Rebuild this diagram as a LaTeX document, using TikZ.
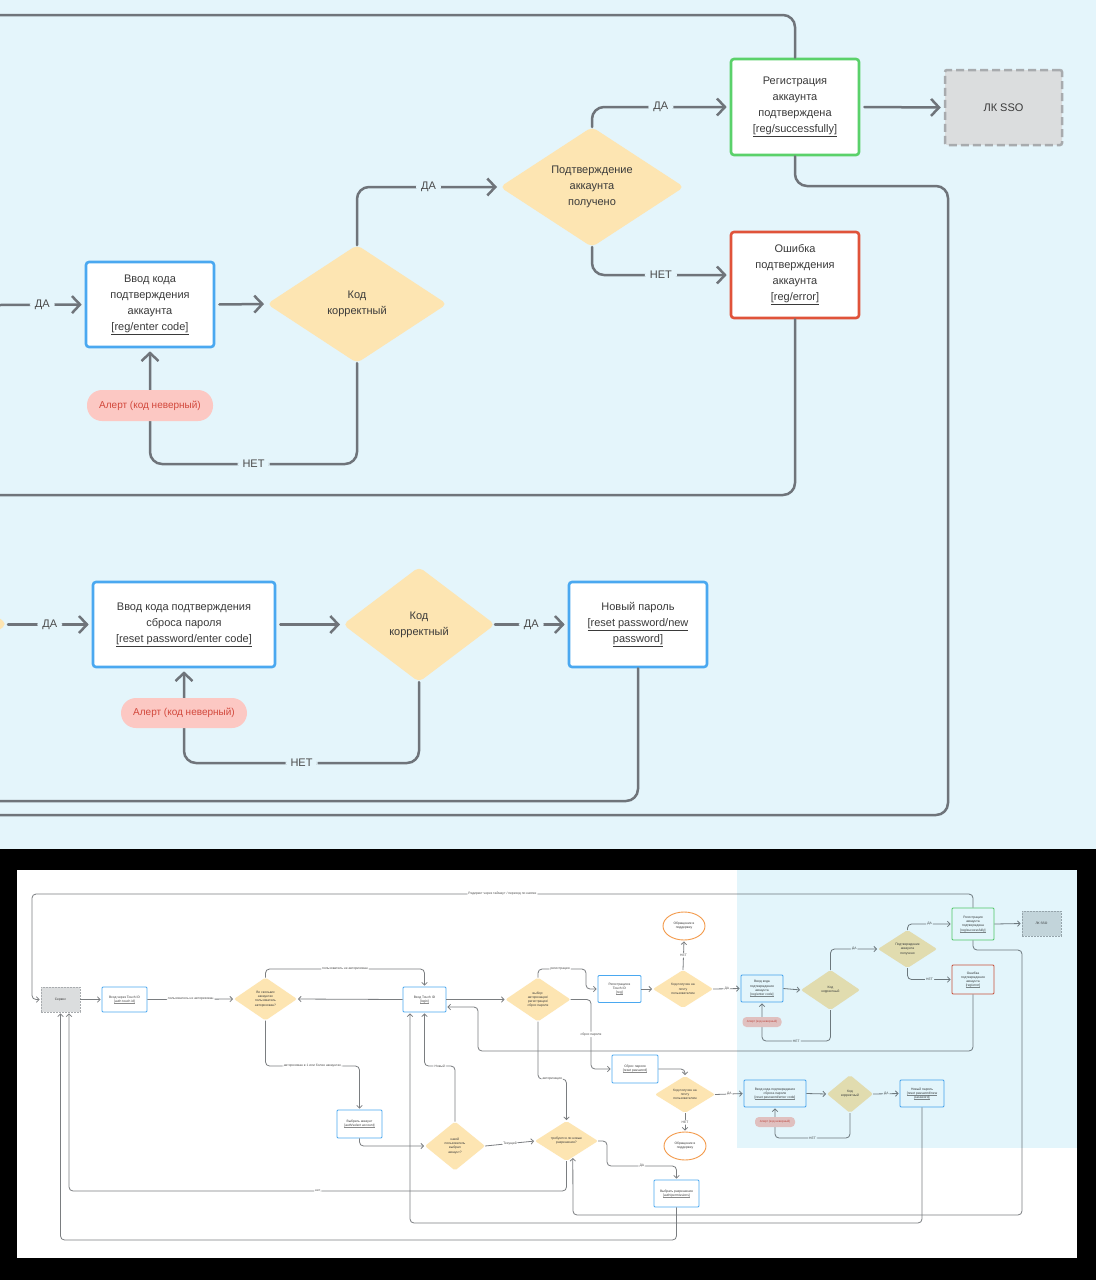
\documentclass[tikz,border=0pt]{standalone}
\usepackage{fontspec}
\setmainfont{Liberation Sans}
\usetikzlibrary{arrows.meta,shapes.geometric,calc}
\definecolor{topbg}{HTML}{E4F5FB}
\definecolor{lineC}{HTML}{6F747A}
\definecolor{blineC}{HTML}{7A7D80}
\definecolor{blueB}{HTML}{4AA8F0}
\definecolor{greenB}{HTML}{5AD16A}
\definecolor{redB}{HTML}{E0533A}
\definecolor{diaY}{HTML}{FDE5B2}
\definecolor{alertF}{HTML}{FCC8C3}
\definecolor{alertT}{HTML}{D2483C}
\definecolor{orangeB}{HTML}{F39A4B}
\definecolor{ssoF}{HTML}{DBDDDE}
\definecolor{ssoB}{HTML}{A8ABAE}
\definecolor{txtC}{HTML}{3A3A3A}
\definecolor{labC}{HTML}{4A4A4A}
\definecolor{ovlC}{HTML}{E3F5FB}
\definecolor{ulC}{HTML}{8A8A8A}
\newcommand{\topfnt}{\fontsize{11}{16}\selectfont}
\newcommand{\botfnt}{\fontsize{3.3}{4.2}\selectfont}
\newcommand{\botul}[1]{\setbox0\hbox{#1}\leavevmode\rlap{\color{ulC}\rule[-0.7pt]{\wd0}{0.2pt}}\box0}
\tikzset{
  ln/.style={draw=lineC, line width=2.5pt, rounded corners=12pt, line cap=round},
  arr/.style={ln, shorten >=3pt, -{Straight Barb[length=8pt,width=17pt]}},
  gap/.style={shorten <=4pt},
  lab/.style={fill=topbg, inner sep=5pt, text=labC, font=\topfnt},
  tbox/.style={draw=#1, line width=2.6pt, fill=white, rounded corners=3pt, align=center, text=txtC, font=\topfnt, inner sep=0pt, execute at begin node={\rule{0pt}{14pt}}},
  dia/.style={diamond, fill=diaY, draw=none, inner sep=0pt, outer sep=0pt, rounded corners=5pt},
  dtext/.style={align=center, text=txtC, font=\topfnt, inner sep=0pt, execute at begin node={\rule{0pt}{12pt}}},
  alert/.style={fill=alertF, rounded corners=15pt, text=alertT, font=\fontsize{10}{12}\selectfont, inner sep=0pt},
  ssobox/.style={fill=ssoF, draw=ssoB, dashed, dash pattern=on 8pt off 4pt, line width=2.5pt, rounded corners=2pt, text=txtC, font=\topfnt},
  bln/.style={draw=blineC, line width=0.8pt, rounded corners=4pt},
  barr/.style={bln, shorten >=1pt, -{Straight Barb[length=2.6pt,width=5.5pt]}},
  blab/.style={fill=white, inner sep=1.2pt, text=labC, font=\botfnt},
  bbox/.style={draw=#1, line width=0.9pt, fill=white, rounded corners=1pt, align=center, text=txtC, font=\botfnt, inner sep=0pt},
  bdia/.style={diamond, fill=diaY, draw=none, inner sep=0pt, outer sep=0pt, rounded corners=2pt},
  btext/.style={align=center, text=txtC, font=\botfnt, inner sep=0pt},
  bell/.style={ellipse, draw=orangeB, line width=0.9pt, fill=white, align=center, text=txtC, font=\botfnt, inner sep=0pt},
  bgray/.style={fill=ssoF, draw=ssoB, dashed, dash pattern=on 2pt off 1pt, line width=0.8pt, text=txtC, font=\botfnt, inner sep=0pt},
  balert/.style={fill=alertF, rounded corners=4pt, text=alertT, font=\fontsize{3}{3.6}\selectfont, inner sep=0pt},
}
\begin{document}
\begin{tikzpicture}[x=1pt,y=-1pt]
\useasboundingbox (0,0) rectangle (1096,1280);
\fill[topbg] (0,0) rectangle (1096,849);
\fill[black] (0,849) rectangle (1096,1280);
\fill[white] (17,870) rectangle (1077,1258);

% ================= TOP (zoomed) =================
\node[tbox=greenB, minimum width=128pt, minimum height=96pt] (regok) at (795,107) {Регистрация\\аккаунта\\подтверждена\\\underline{[reg/successfully]}};
\node[ssobox, minimum width=117pt, minimum height=75pt] (sso) at (1003.5,107.5) {ЛК SSO};
\node[dia, minimum width=184pt, minimum height=120pt] (dconf) at (592,187) {};
\node[dtext] (dconft) at (dconf) {Подтверждение\\аккаунта\\получено};
\node[tbox=redB, minimum width=128pt, minimum height=86pt] (err) at (795,275) {Ошибка\\подтверждения\\аккаунта\\\underline{[reg/error]}};
\node[tbox=blueB, minimum width=128pt, minimum height=85pt] (encode) at (150,304.5) {Ввод кода\\подтверждения\\аккаунта\\\underline{[reg/enter code]}};
\node[dia, minimum width=180pt, minimum height=118pt] (dcode1) at (357,304) {};
\node[dtext] (dcode1t) at (dcode1) {Код\\корректный};

\node[dia, minimum width=150pt, minimum height=115pt] (dprev) at (-68,624) {};
\node[tbox=blueB, minimum width=182pt, minimum height=85pt] (rcode) at (184,624.5) {Ввод кода подтверждения\\сброса пароля\\\underline{[reset password/enter code]}};
\node[dia, minimum width=152pt, minimum height=115pt] (dcode2) at (419,624.5) {};
\node[dtext] (dcode2t) at (dcode2) {Код\\корректный};
\node[tbox=blueB, minimum width=138pt, minimum height=85pt] (newpw) at (638,624.5) {Новый пароль\\\underline{[reset password/new}\\\underline{password]}};

\coordinate (tl) at (0,15);
\draw[ln] (regok.north) |- (tl);
\draw[arr,gap] (regok.east) -- (sso.west);
\draw[arr] (dconf.north) |- node[lab,pos=.75]{ДА} (regok.west);
\draw[arr] (dconf.south) |- node[lab,pos=.75]{НЕТ} (err.west);
\coordinate (c1) at (0,495);
\draw[ln] (err.south) |- (c1);
\coordinate (r1) at (948,186);
\coordinate (r2) at (0,815);
\draw[ln] (regok.south) |- (r1) |- (r2);
\coordinate (l1) at (0,305);
\draw[arr] (l1) -- node[lab]{ДА} (encode.west);
\draw[arr,gap] (encode.east) -- (dcode1.west);
\draw[arr] (dcode1.north) |- node[lab,pos=.75]{ДА} (dconf.west);
\coordinate (n1) at (150,464);
\draw[arr] (dcode1.south) |- node[lab,pos=.75]{НЕТ} (n1) -- (encode.south);
\node[alert, minimum width=126pt, minimum height=31pt] (alert1) at (150,405.5) {Алерт (код неверный)};

\coordinate (l2) at (8,624.5);
\draw[arr] (l2) -- node[lab]{ДА} (rcode.west);
\draw[arr,gap] (rcode.east) -- (dcode2.west);
\draw[arr] (dcode2.east) -- node[lab]{ДА} (newpw.west);
\coordinate (n2) at (184,763);
\draw[arr] (dcode2.south) |- node[lab,pos=.75]{НЕТ} (n2) -- (rcode.south);
\node[alert, minimum width=126pt, minimum height=30pt] (alert2) at (184,713) {Алерт (код неверный)};
\coordinate (c3) at (0,801);
\draw[ln] (newpw.south) |- (c3);

% ================= BOTTOM (overview) =================
\node[bgray, minimum width=39pt, minimum height=25pt] (serv) at (60.5,999.5) {Сервис};
\node[bbox=blueB, minimum width=45pt, minimum height=25pt] (touch) at (124.5,999.5) {Вход через Touch ID\\\botul{[auth touch id]}};
\node[bdia, minimum width=63pt, minimum height=43pt] (d1) at (265.5,999) {};
\node[btext] (d1t) at (d1) {Во скольких\\аккаунтах\\пользователь\\авторизован?};
\node[bbox=blueB, minimum width=43pt, minimum height=25pt] (login) at (424.5,999.5) {Вход Touch ID\\\botul{[login]}};
\node[bdia, minimum width=65pt, minimum height=44pt] (d2) at (538,999.5) {};
\node[btext] (d2t) at (d2) {выбор:\\авторизация/\\регистрация/\\сброс пароля};
\node[bbox=blueB, minimum width=43pt, minimum height=27pt] (reg) at (619.5,989) {Регистрация в\\Touch ID\\\botul{[reg]}};
\node[bdia, minimum width=60pt, minimum height=38pt] (d3) at (683,989) {};
\node[btext] (d3t) at (d3) {Код получен на\\почту\\пользователем};
\node[bell, minimum width=42pt, minimum height=28pt] (sup1) at (684,926) {Обращение в\\поддержку};
\node[bbox=blueB, minimum width=42pt, minimum height=27pt] (encb) at (762,988.5) {Ввод кода\\подтверждения\\аккаунта\\\botul{[reg/enter code]}};
\node[bdia, minimum width=59pt, minimum height=40pt] (d4) at (830.5,990) {};
\node[btext] (d4t) at (d4) {Код\\корректный};
\node[bdia, minimum width=59pt, minimum height=38pt] (d5) at (907.5,949) {};
\node[btext] (d5t) at (d5) {Подтверждение\\аккаунта\\получено};
\node[bbox=greenB, minimum width=42pt, minimum height=32pt] (okb) at (973,924) {Регистрация\\аккаунта\\подтверждена\\\botul{[reg/successfully]}};
\node[bgray, minimum width=39pt, minimum height=25pt] (ssob) at (1041.5,923.5) {ЛК SSO};
\node[bbox=redB, minimum width=42pt, minimum height=29pt] (errb) at (973,979.5) {Ошибка\\подтверждения\\аккаунта\\\botul{[reg/error]}};
\node[bbox=blueB, minimum width=45pt, minimum height=28pt] (selacc) at (359.5,1124) {Выбрать аккаунт\\\botul{[auth/select account]}};
\node[bdia, minimum width=60pt, minimum height=49pt] (d6) at (455,1146) {};
\node[btext] (d6t) at (d6) {какой\\пользователь\\выбрал\\аккаунт?};
\node[bdia, minimum width=63pt, minimum height=40pt] (d7) at (566.5,1141) {};
\node[btext] (d7t) at (d7) {требуются ли новые\\разрешения?};
\node[bbox=blueB, minimum width=46pt, minimum height=28pt] (rst) at (635,1069) {Сброс пароля\\\botul{[reset password]}};
\node[bdia, minimum width=60pt, minimum height=37pt] (d8) at (685,1094.5) {};
\node[btext] (d8t) at (d8) {Код получен на\\почту\\пользователем};
\node[bell, minimum width=42pt, minimum height=28pt] (sup2) at (685,1146) {Обращение в\\поддержку};
\node[bbox=blueB, minimum width=62pt, minimum height=27pt] (rcb) at (775,1093.5) {Ввод кода подтверждения\\сброса пароля\\\botul{[reset password/enter code]}};
\node[bdia, minimum width=46pt, minimum height=38pt] (d9) at (850,1094) {};
\node[btext] (d9t) at (d9) {Код\\корректный};
\node[bbox=blueB, minimum width=44pt, minimum height=27pt] (npb) at (922,1093.5) {Новый пароль\\\botul{[reset password/new}\\\botul{password]}};
\node[bbox=blueB, minimum width=45pt, minimum height=27pt] (perm) at (676.5,1193.5) {Выбрать разрешения\\\botul{[auth/permissions]}};

\coordinate (tc1) at (32,894);
\draw[barr] (okb.north) |- node[blab,pos=.75]{Редирект через таймаут / переход по кнопке} (tc1) |- (serv.west);
\draw[barr] (serv.east) -- (touch.west);
\draw[barr] (touch.east) -- node[blab]{пользователь не авторизован} (d1.west);
\draw[barr] (login.west) -- (d1.east);
\coordinate (tc2) at (424.5,969);
\draw[barr] (d1.north) |- node[blab,pos=.75]{пользователь не авторизован} (tc2) -- (login.north);
\draw[barr] (login.east) -- (d2.west);
\coordinate (tc3) at (586,969);
\draw[barr] (d2.north) |- node[blab,pos=.73]{регистрация} (tc3) |- (reg.west);
\draw[barr] (reg.east) -- (d3.west);
\draw[barr] (d3.north) -- node[blab]{НЕТ} (sup1.south);
\draw[barr] (d3.east) -- node[blab]{ДА} (encb.west);
\draw[barr] (encb.east) -- (d4.west);
\draw[barr] (d4.north) |- node[blab,pos=.75]{ДА} (d5.west);
\draw[barr] (d5.north) |- node[blab,pos=.75]{ДА} (okb.west);
\draw[barr] (d5.south) |- node[blab,pos=.75]{НЕТ} (errb.west);
\draw[barr] (okb.east) -- (ssob.west);
\coordinate (tc4) at (762,1041);
\draw[barr] (d4.south) |- node[blab,pos=.75]{НЕТ} (tc4) -- (encb.south);
\coordinate (tc5) at (478,1051);
\draw[barr] (errb.south) |- (tc5) |- ([yshift=-7.5pt]login.east);
\coordinate (tc6) at (1022,950);
\coordinate (tc7) at (573,1215);
\coordinate (d7in) at ($(d7.south)!0.2!(d7.east)$);
\draw[barr] (okb.south) |- (tc6) |- (tc7) -- (d7in);
\coordinate (tc8) at (410,1223);
\draw[barr] (npb.south) |- (tc8) -- ([xshift=-14.5pt]login.south);
\coordinate (tc9) at (424.5,1066);
\draw[barr] (d6.north) |- node[blab,pos=.75]{Новый} (tc9) -- (login.south);
\coordinate (tc10) at (359.5,1066);
\draw[barr] (d1.south) |- node[blab,pos=.75]{авторизован в 1 или более аккаунтах} (tc10) -- (selacc.north);
\draw[barr] (selacc.south) |- (d6.west);
\draw[barr] (d6.east) -- node[blab]{Текущий} (d7.west);
\coordinate (tc11) at (566.5,1079);
\draw[barr] (d2.south) |- node[blab,pos=.75]{авторизация} (tc11) -- (d7.north);
\coordinate (tc12) at (591,1069);
\draw[barr] (d2.east) -| node[blab,pos=.75]{сброс пароля} (tc12) -- (rst.west);
\draw[barr] (rst.east) -| (d8.north);
\draw[barr] (d8.south) -- node[blab]{НЕТ} (sup2.north);
\draw[barr] (d8.east) -- node[blab]{ДА} (rcb.west);
\draw[barr] (rcb.east) -- (d9.west);
\draw[barr] (d9.east) -- node[blab]{ДА} (npb.west);
\coordinate (tc13) at (775,1138);
\draw[barr] (d9.south) |- node[blab,pos=.75]{НЕТ} (tc13) -- (rcb.south);
\coordinate (tc14) at (607,1166);
\draw[barr] (d7.east) -| (tc14) -| node[blab,pos=.25]{ДА} (perm.north);
\coordinate (tc15) at (69,1191);
\draw[barr] (d7.south) |- node[blab,pos=.75]{нет} (tc15) -- ([xshift=8.5pt]serv.south);
\coordinate (tc16) at (60.5,1240);
\draw[barr] (perm.south) |- (tc16) -- (serv.south);

\node[balert, minimum width=39pt, minimum height=10pt] (alb1) at (762,1022) {Алерт (код неверный)};
\node[balert, minimum width=40pt, minimum height=10pt] (alb2) at (775,1122) {Алерт (код неверный)};

\begin{scope}[blend mode=multiply]
\fill[ovlC] (737,870) rectangle (1077,1148);
\end{scope}
\end{tikzpicture}
\end{document}
